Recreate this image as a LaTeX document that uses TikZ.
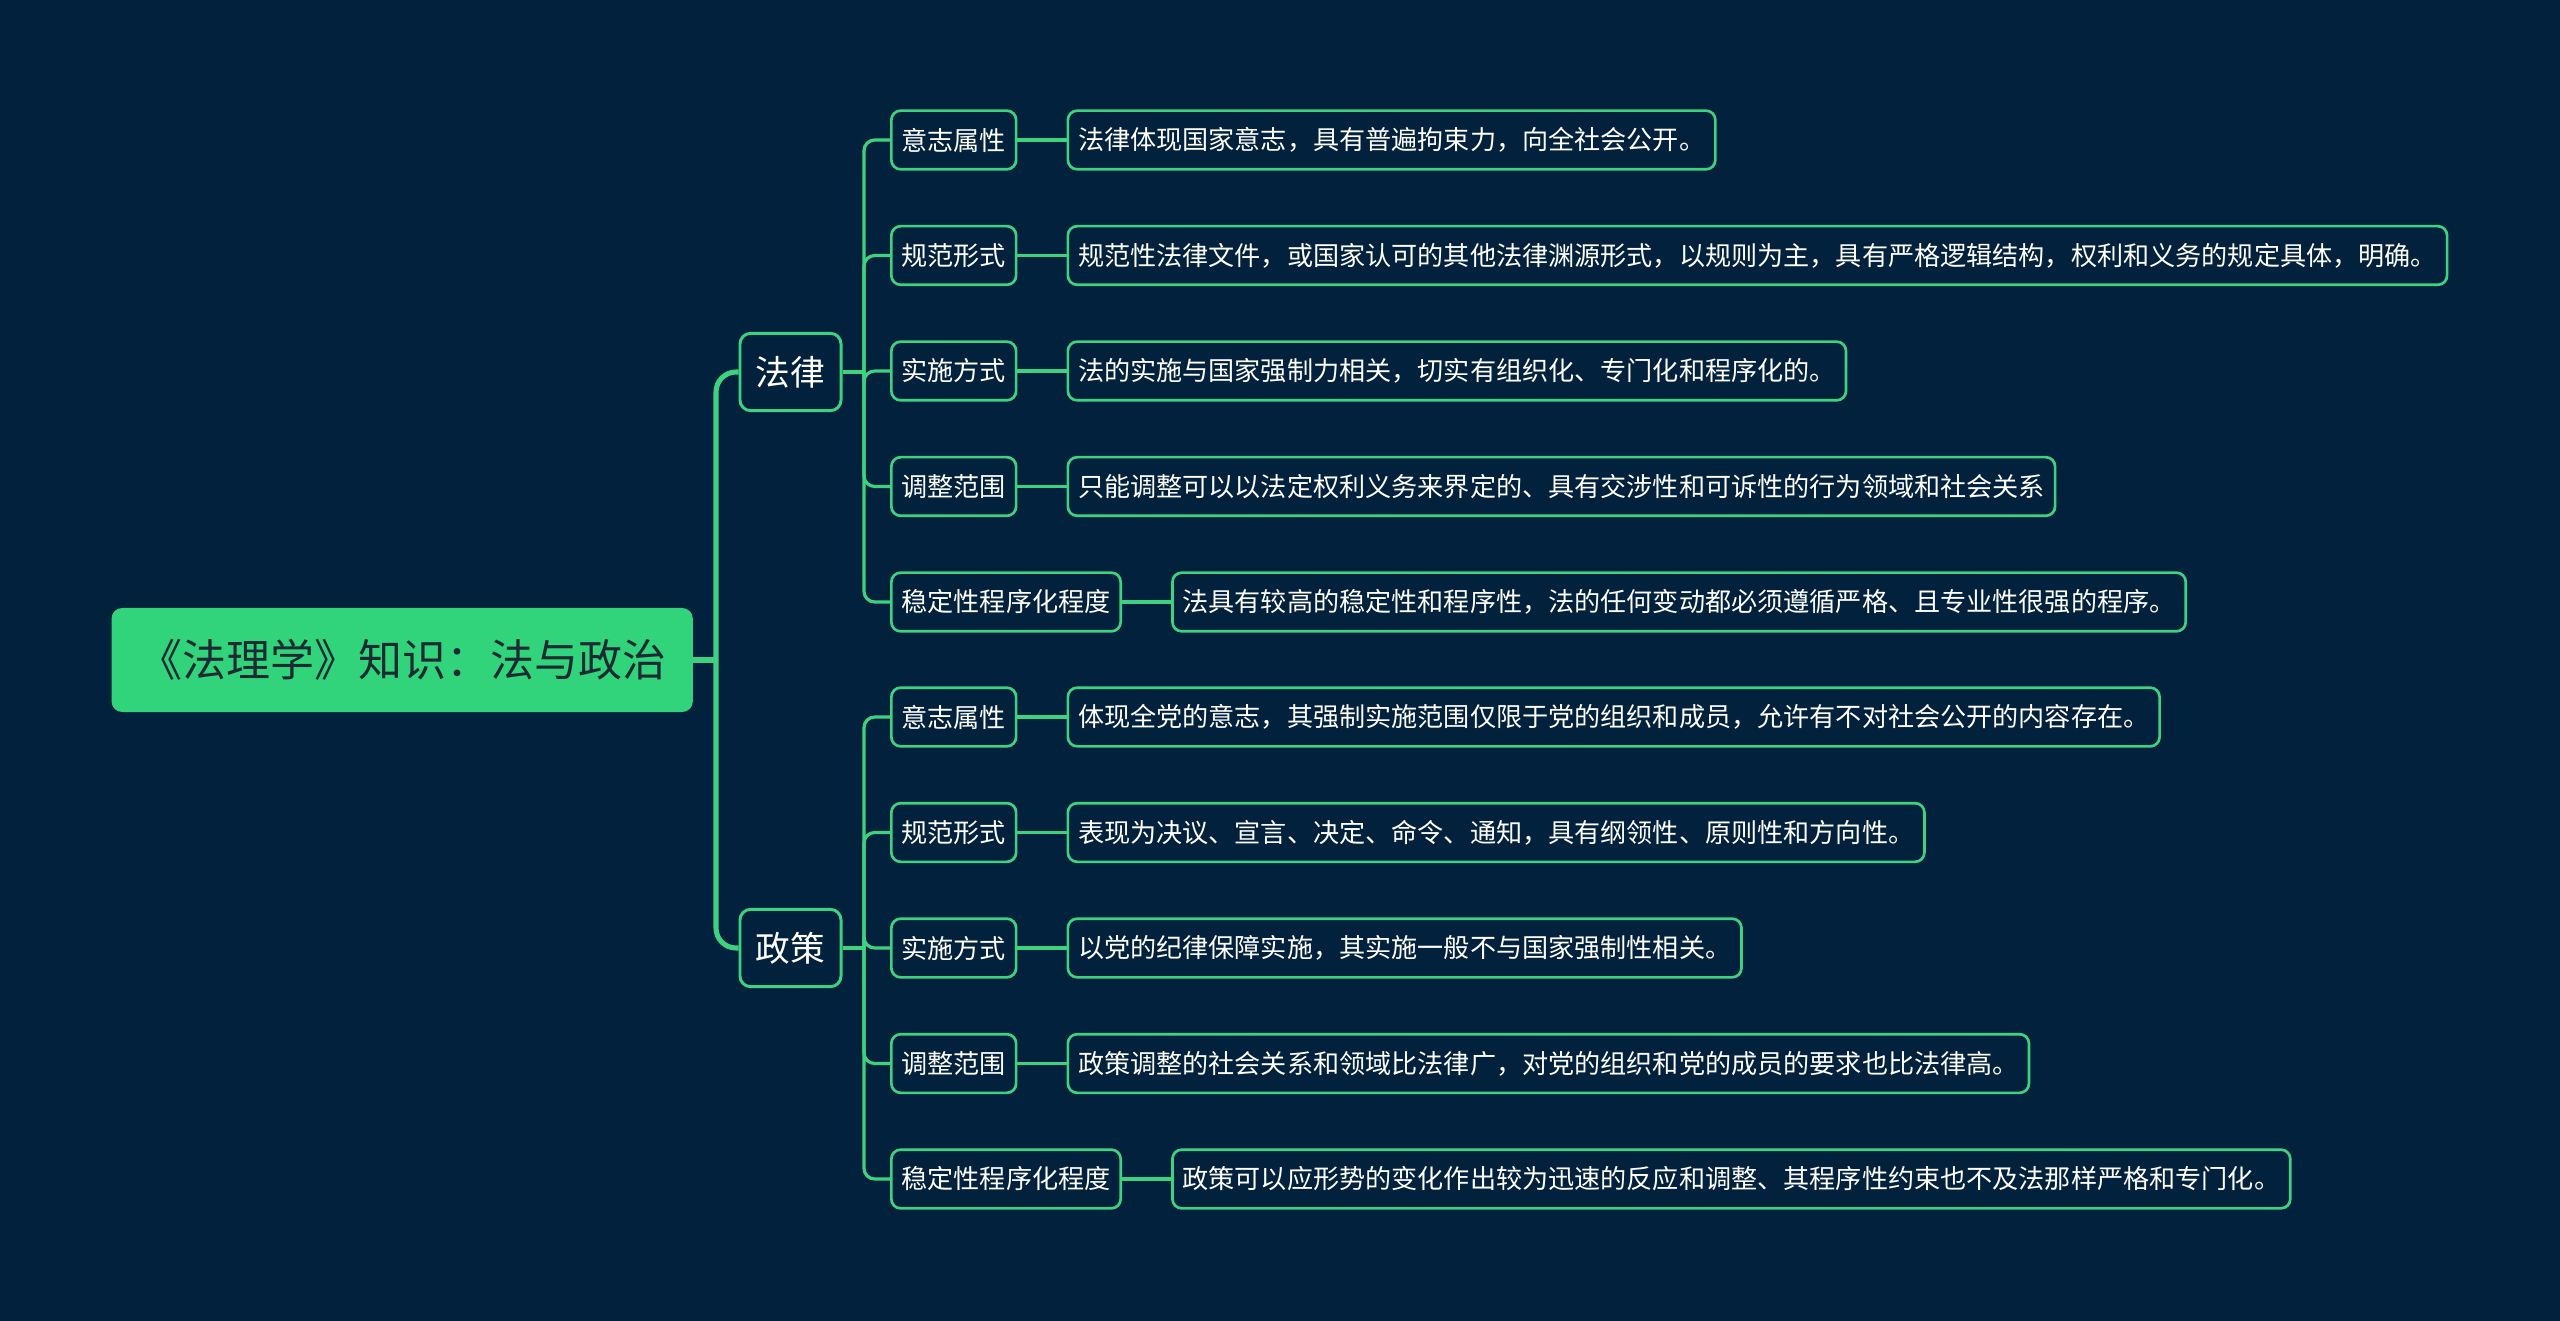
\documentclass[tikz,border=0pt]{standalone}
\usepackage{fontspec}
\setmainfont{Noto Sans CJK SC}
\usetikzlibrary{positioning}

\definecolor{bgnavy}{HTML}{02213D}
\definecolor{mapgreen}{HTML}{31D47A}
\definecolor{linegreen}{HTML}{3DD180}
\definecolor{rootink}{HTML}{1B2B33}

\tikzset{
  rootbox/.style={fill=mapgreen, rounded corners=4pt, minimum height=39pt, inner xsep=10pt,
    text=rootink, font=\fontsize{16.5}{18}\selectfont},
  topicbox/.style={draw=linegreen, line width=1.1pt, fill=bgnavy, rounded corners=4pt,
    minimum width=37.9pt, minimum height=29pt, text=white, font=\fontsize{13}{15}\selectfont},
  itembox/.style={draw=linegreen, line width=1pt, fill=bgnavy, rounded corners=3.5pt,
    minimum height=22pt, inner xsep=3.8pt, text=white, font=\fontsize{9.8}{11}\selectfont},
  trunk/.style={draw=linegreen, line width=1.9pt},
  twig/.style={draw=linegreen, line width=1.2pt},
}

\begin{document}
\begin{tikzpicture}[x=0.375pt, y=-0.375pt]
\fill[bgnavy] (0,0) rectangle (2560,1321);
\useasboundingbox (0,0) rectangle (2560,1321);

\node[rootbox, anchor=west] (root) at (111,660) {《法理学》知识：法与政治};
\node[topicbox] (law) at (790.5,372) {法律};
\node[topicbox] (policy) at (790.5,948) {政策};

\coordinate (rootj) at (716,660);
\draw[trunk] (root.east) -- (rootj);
\draw[trunk, rounded corners=7.5pt] (rootj) |- (law.west);
\draw[trunk, rounded corners=7.5pt] (rootj) |- (policy.west);

\coordinate (lawj) at (864,372);
\coordinate (policyj) at (864,948);
\draw[twig] (law.east) -- (lawj);
\draw[twig] (policy.east) -- (policyj);

% 法律
\foreach \i/\lab/\txt in {
  1/意志属性/法律体现国家意志，具有普遍拘束力，向全社会公开。,
  2/规范形式/规范性法律文件，或国家认可的其他法律渊源形式，以规则为主，具有严格逻辑结构，权利和义务的规定具体，明确。,
  3/实施方式/法的实施与国家强制力相关，切实有组织化、专门化和程序化的。,
  4/调整范围/只能调整可以以法定权利义务来界定的、具有交涉性和可诉性的行为领域和社会关系,
  5/稳定性程序化程度/法具有较高的稳定性和程序性，法的任何变动都必须遵循严格、且专业性很强的程序。}{
  \node[itembox, anchor=west] (law\i) at ({890},{140+115.5*(\i-1)}) {\lab};
  \node[itembox, right=18.4pt of law\i] (lawtxt\i) {\txt};
  \draw[twig, rounded corners=4pt] (lawj) |- (law\i.west);
  \draw[twig] (law\i.east) -- (lawtxt\i.west);
}

% 政策
\foreach \i/\lab/\txt in {
  1/意志属性/体现全党的意志，其强制实施范围仅限于党的组织和成员，允许有不对社会公开的内容存在。,
  2/规范形式/表现为决议、宣言、决定、命令、通知，具有纲领性、原则性和方向性。,
  3/实施方式/以党的纪律保障实施，其实施一般不与国家强制性相关。,
  4/调整范围/政策调整的社会关系和领域比法律广，对党的组织和党的成员的要求也比法律高。,
  5/稳定性程序化程度/政策可以应形势的变化作出较为迅速的反应和调整、其程序性约束也不及法那样严格和专门化。}{
  \node[itembox, anchor=west] (policy\i) at ({890},{717+115.5*(\i-1)}) {\lab};
  \node[itembox, right=18.4pt of policy\i] (policytxt\i) {\txt};
  \draw[twig, rounded corners=4pt] (policyj) |- (policy\i.west);
  \draw[twig] (policy\i.east) -- (policytxt\i.west);
}
\end{tikzpicture}
\end{document}
